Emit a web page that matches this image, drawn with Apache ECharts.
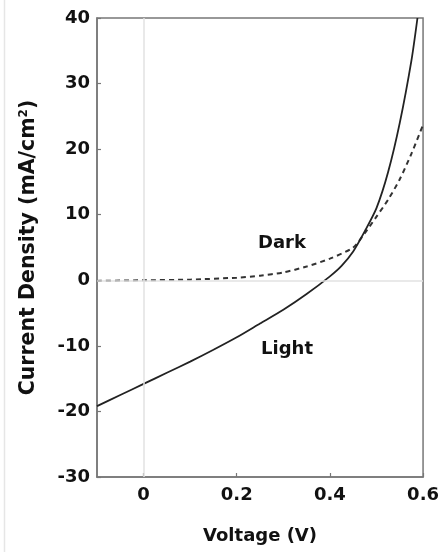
<!DOCTYPE html>
<html><head><meta charset="utf-8">
<script src="https://cdn.jsdelivr.net/npm/echarts@6/dist/echarts.min.js"></script>
<style>html,body{margin:0;padding:0;background:#fff}#c{width:442px;height:552px}</style>
</head><body><div id="c"></div>
<script>
// Light J-V curve (V in volts, J in mA/cm^2)
const lightV = [-0.1, -0.05, 0, 0.05, 0.1, 0.15, 0.2, 0.25, 0.3, 0.35, 0.4, 0.425, 0.45, 0.475, 0.5, 0.525, 0.55, 0.575, 0.588];
const lightJ = [-19.2, -17.5, -15.8, -14.1, -12.4, -10.6, -8.7, -6.6, -4.5, -2.1, 0.6, 2.2, 4.4, 7.5, 11.0, 16.5, 24.0, 33.5, 40];
// Dark J-V curve
const darkV = [-0.1, 0, 0.1, 0.2, 0.25, 0.3, 0.35, 0.4, 0.45, 0.475, 0.5, 0.525, 0.55, 0.575, 0.6];
const darkJ = [-0.1, 0, 0.1, 0.4, 0.7, 1.2, 2.1, 3.3, 5.0, 7.2, 9.7, 12.3, 15.4, 19.3, 23.7];
// axis ticks
const xTicks = [0, 0.2, 0.4, 0.6];
const xRange = [-0.1, 0.6];
const yRange = [-30, 40];
const yStep = 10;
// curve annotations
const annoNames = ['Dark', 'Light'];
const annoV = [0.297, 0.308];
const annoJ = [5.7, -10.6];

const FONT = 'DejaVu Sans';
const zip = (a, b) => a.map((v, i) => [v, b[i]]);
const chart = echarts.init(document.getElementById('c'), null, {renderer: 'canvas'});
chart.setOption({
  animation: false,
  backgroundColor: '#fff',
  grid: {left: 97, right: 15, top: 18, bottom: 75, show: true, borderColor: '#777', borderWidth: 1.5, backgroundColor: 'transparent'},
  graphic: [{type: 'line', shape: {x1: 4.5, y1: 0, x2: 4.5, y2: 552}, style: {stroke: '#e6e6e6', lineWidth: 1.5}}],
  xAxis: {
    type: 'value', min: xRange[0], max: xRange[1],
    name: 'Voltage (V)', nameLocation: 'middle', nameGap: 50,
    nameTextStyle: {fontFamily: FONT, fontWeight: 'bold', fontSize: 18, color: '#111'},
    axisLine: {onZero: false, lineStyle: {color: '#777', width: 1.5}},
    axisTick: {inside: true, length: 4, customValues: xTicks, lineStyle: {color: '#777', width: 1.2}},
    axisLabel: {customValues: xTicks, margin: 9, fontFamily: FONT, fontWeight: 'bold', fontSize: 18, color: '#111',
      formatter: v => String(+(+v).toFixed(1))},
    splitLine: {show: false}
  },
  yAxis: {
    type: 'value', min: yRange[0], max: yRange[1], interval: yStep,
    name: '{a|Current Density (mA/cm}{s|2}{a|)}', nameLocation: 'middle', nameGap: 58, nameRotate: 90,
    nameTextStyle: {rich: {
      a: {fontFamily: FONT, fontWeight: 'bold', fontSize: 20.5, color: '#111'},
      s: {fontFamily: FONT, fontWeight: 'bold', fontSize: 12, color: '#111', verticalAlign: 'top'}
    }},
    axisLine: {onZero: false, lineStyle: {color: '#777', width: 1.5}},
    axisTick: {inside: true, length: 4, lineStyle: {color: '#777', width: 1.2}},
    axisLabel: {margin: 7, fontFamily: FONT, fontWeight: 'bold', fontSize: 18, color: '#111'},
    splitLine: {show: false}
  },
  series: [
    {
      type: 'line', name: 'zero', data: [], z: 1, silent: true,
      markLine: {silent: true, symbol: 'none', label: {show: false}, animation: false,
        lineStyle: {color: '#e2e2e2', type: 'solid', width: 1.5},
        data: [{xAxis: 0}, {yAxis: 0}]}
    },
    {
      type: 'line', name: 'Dark', data: zip(darkV, darkJ), smooth: 0.25, showSymbol: false, z: 2,
      lineStyle: {color: '#333', width: 2, type: [5, 4]}
    },
    {
      type: 'line', name: 'Light', data: zip(lightV, lightJ), smooth: 0.25, showSymbol: false, z: 3,
      lineStyle: {color: '#222', width: 1.8}
    },
    {
      type: 'scatter', symbolSize: 0, z: 4, itemStyle: {opacity: 1},
      data: annoNames.map((n, i) => ({name: n, value: [annoV[i], annoJ[i]]})),
      label: {show: true, position: 'inside', formatter: p => p.name,
        fontFamily: FONT, fontWeight: 'bold', fontSize: 18, color: '#111', opacity: 1}
    }
  ]
});
</script></body></html>
